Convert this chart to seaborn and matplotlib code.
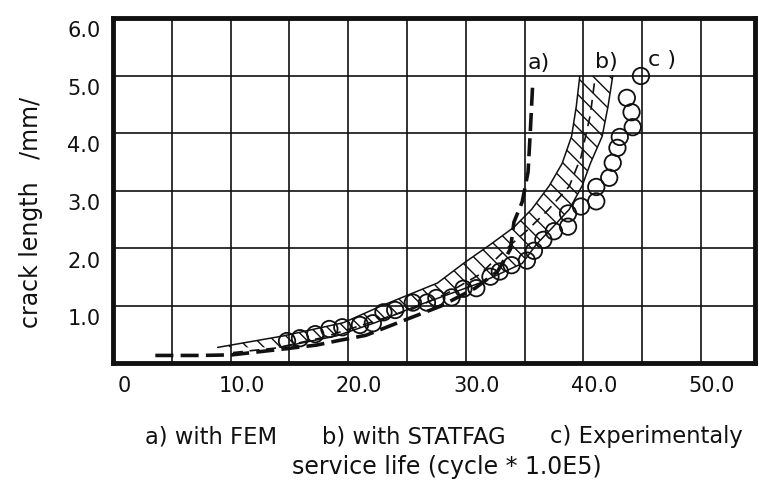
import numpy as np
import pandas as pd
import seaborn as sns
import matplotlib.pyplot as plt
from matplotlib.transforms import ScaledTranslation

# a) with FEM (thick dashed curve)
fem_x = [3.6, 7.4, 10.1, 14.4, 17.3, 19.2, 21.5, 25.0, 27.9, 30.8, 32.7, 33.8, 34.1, 34.8, 35.3, 35.5, 35.7]
fem_y = [0.14, 0.14, 0.15, 0.25, 0.32, 0.40, 0.49, 0.77, 1.00, 1.31, 1.60, 1.99, 2.46, 2.81, 3.33, 4.07, 4.89]

# b) with STATFAG (hatched scatter band + thin dashed mean)
band_y = [0.28, 0.48, 0.71, 1.00, 1.40, 1.74, 2.07, 2.37, 2.68, 3.09, 3.48, 3.95, 4.47, 5.00]
band_x_left = [8.9, 14.5, 19.6, 22.8, 27.6, 29.8, 32.1, 34.1, 35.6, 37.1, 38.2, 39.0, 39.4, 39.7]
band_x_right = [14.2, 19.0, 22.3, 25.8, 31.2, 34.8, 36.0, 37.4, 38.8, 39.9, 40.6, 41.6, 42.1, 42.5]
mid_x = [10.2, 13.9, 17.8, 22.0, 25.5, 28.4, 31.2, 33.8, 35.3, 37.0, 38.8, 39.8, 40.6, 41.0]
mid_y = [0.19, 0.27, 0.45, 0.72, 0.95, 1.22, 1.55, 2.06, 2.33, 2.67, 3.08, 3.59, 4.33, 4.98]

# c) Experimentaly (circles)
exp_x = [14.8, 15.9, 17.2, 18.4, 19.5, 21.0, 22.1, 23.0, 24.0, 25.5, 26.7, 27.5, 28.8, 29.8,
         30.9, 32.1, 32.9, 33.9, 35.2, 35.8, 36.6, 37.5, 38.7, 38.7, 39.8, 41.1, 41.1, 42.2,
         42.5, 42.9, 43.1, 44.2, 44.1, 43.7, 44.9]
exp_y = [0.39, 0.44, 0.51, 0.60, 0.63, 0.67, 0.70, 0.89, 0.93, 1.06, 1.06, 1.14, 1.15, 1.30,
         1.31, 1.51, 1.60, 1.71, 1.79, 1.96, 2.15, 2.30, 2.38, 2.61, 2.73, 2.82, 3.07, 3.23,
         3.49, 3.75, 3.94, 4.11, 4.37, 4.62, 5.00]

x_ticks = [0, 5, 10, 15, 20, 25, 30, 35, 40, 45, 50]
x_tick_labels = ["0", "", "10.0", "", "20.0", "", "30.0", "", "40.0", "", "50.0"]
y_ticks = [1, 2, 3, 4, 5, 6]
y_tick_labels = ["1.0", "2.0", "3.0", "4.0", "5.0", "6.0"]

ink = "#111111"

sns.set_style("white")
plt.rcParams["hatch.linewidth"] = 1.0

W, H = 759, 486
fig = plt.figure(figsize=(W / 100, H / 100), dpi=100)
ax = fig.add_axes([113 / W, 1 - 363.5 / H, 642 / W, 345 / H])

# STATFAG band
ax.fill_betweenx(band_y, band_x_left, band_x_right, facecolor="none",
                 edgecolor=ink, hatch="\\\\", linewidth=0, zorder=2)
sns.lineplot(x=band_x_left, y=band_y, sort=False, estimator=None, color=ink, lw=1.1, ax=ax, zorder=3)
sns.lineplot(x=band_x_right, y=band_y, sort=False, estimator=None, color=ink, lw=1.1, ax=ax, zorder=3)
sns.lineplot(x=mid_x, y=mid_y, sort=False, estimator=None, color=ink, lw=1.2,
             linestyle=(0, (6, 4)), ax=ax, zorder=3)

# FEM curve
sns.lineplot(x=fem_x, y=fem_y, sort=False, estimator=None, color=ink, lw=2.6,
             linestyle=(0, (5, 2)), ax=ax, zorder=4)

# experimental points
sns.scatterplot(x=exp_x, y=exp_y, marker="o", s=140, facecolors="none",
                edgecolor=ink, linewidth=1.3, ax=ax, zorder=5)

ax.text(35.3, 5.06, "a)", fontsize=16, ha="left", va="bottom", color=ink)
ax.text(41.0, 5.07, "b)", fontsize=16, ha="left", va="bottom", color=ink)
ax.text(45.5, 5.10, "c )", fontsize=16, ha="left", va="bottom", color=ink)

ax.set_xlim(0.51, 54.6)
ax.set_ylim(0, 6)
ax.set_xticks(x_ticks)
ax.set_xticklabels(x_tick_labels)
ax.set_yticks(y_ticks)
ax.set_yticklabels(y_tick_labels)
ax.tick_params(length=0, labelsize=15, colors=ink)
ax.tick_params(axis="x", pad=9)
ax.tick_params(axis="y", pad=9)
ax.grid(True, color=ink, lw=1.2)
ax.set_axisbelow(True)
ax.set_xlabel("")
ax.set_ylabel("")
for s in ax.spines.values():
    s.set_visible(True)
    s.set_color(ink)
    s.set_linewidth(3.5)

for lab in ax.get_xticklabels():
    lab.set_transform(lab.get_transform() + ScaledTranslation(0.11, 0, fig.dpi_scale_trans))
for lab in ax.get_yticklabels():
    lab.set_transform(lab.get_transform() + ScaledTranslation(0, -0.11, fig.dpi_scale_trans))

fig.text(145 / W, 1 - 437 / H, "a) with FEM", fontsize=16.3, ha="left", va="center", color=ink)
fig.text(322 / W, 1 - 437 / H, "b) with STATFAG", fontsize=16.3, ha="left", va="center", color=ink)
fig.text(550 / W, 1 - 437 / H, "c) Experimentaly", fontsize=16.3, ha="left", va="center", color=ink)
fig.text(447 / W, 1 - 467 / H, "service life (cycle * 1.0E5)", fontsize=17, ha="center", va="center", color=ink)
fig.text(31 / W, 1 - 212 / H, "crack length   /mm/", fontsize=17, rotation=90, ha="center", va="center", color=ink)

plt.savefig("out.png", dpi=100, facecolor="white")
plt.close()
